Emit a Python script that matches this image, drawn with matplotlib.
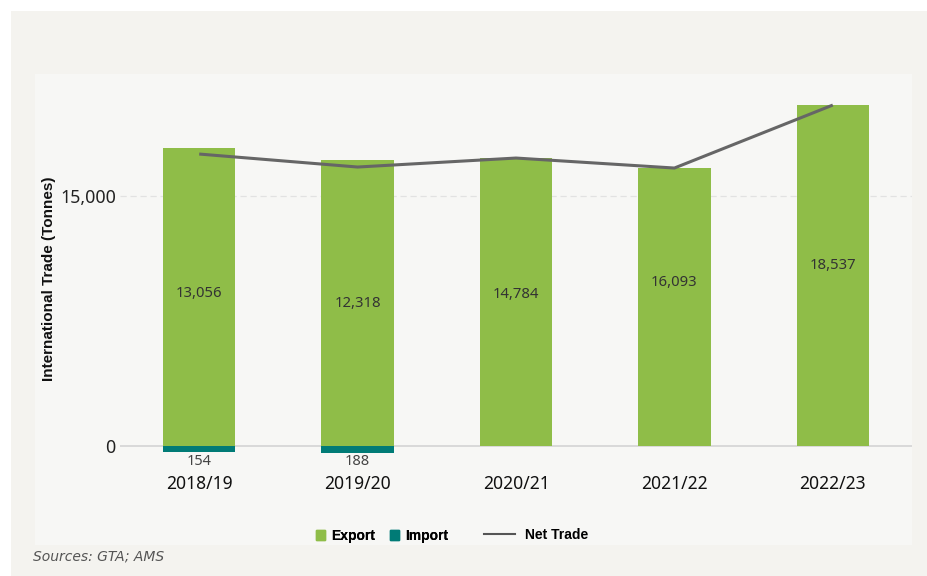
import matplotlib.pyplot as plt
from matplotlib.patches import Rectangle, Patch
from matplotlib.lines import Line2D

years = ["2018/19", "2019/20", "2020/21", "2021/22", "2022/23"]
export_vals = [17880, 17160, 17280, 16680, 20460]
import_vals = [-370, -400, 0, 0, 0]
net_trade = [17520, 16740, 17280, 16680, 20460]
export_labels = ["13,056", "12,318", "14,784", "16,093", "18,537"]
import_labels = ["154", "188", "", "", ""]

# where the value labels sit inside the bars (as in the source chart)
label_y = [9180, 8580, 9120, 9840, 10860]

green = "#8fbd48"
teal = "#007b76"
plt.rcParams["font.family"] = ["Noto Sans", "DejaVu Sans"]

fig = plt.figure(figsize=(9.28, 5.76), dpi=100, facecolor="white")

# outer and inner panels
fig.patches.append(Rectangle((11 / 928, 0), 917 / 928, 565 / 576, transform=fig.transFigure,
                             facecolor="#f4f3ef", edgecolor="none", zorder=-3))
fig.patches.append(Rectangle((35 / 928, 31 / 576), 877 / 928, 471 / 576, transform=fig.transFigure,
                             facecolor="#f7f7f5", edgecolor="none", zorder=-2))

ax = fig.add_axes([120 / 928, 0.2026, 792 / 928, 0.648])
ax.set_facecolor("none")

x = range(len(years))
ax.bar(x, export_vals, width=0.456, color=green, zorder=2)
ax.bar(x, import_vals, width=0.456, color=teal, zorder=2)
ax.plot(x, net_trade, color="#666666", linewidth=2.2, zorder=3, solid_capstyle="butt")

for i in x:
    ax.text(i, label_y[i], export_labels[i], ha="center", va="center",
            fontsize=10.7, color="#333333", zorder=4)
    if import_labels[i]:
        ax.text(i, -480, import_labels[i], ha="center", va="top", fontsize=10.5, color="#444444")

ax.axhline(0, color="#d4d4d4", linewidth=1.2, zorder=1)
ax.axhline(15000, color="#e2e2e2", linewidth=0.9, linestyle=(0, (5, 3)), zorder=0)

ax.set_xlim(-0.5, 4.5)
ax.set_ylim(-800, 21600)
ax.set_yticks([0, 15000])
ax.set_yticklabels(["0", "15,000"], fontsize=12.8, color="#222222")
ax.set_xticks(list(x))
ax.set_xticklabels(years, fontsize=12.6, color="#111111")
ax.tick_params(length=0)
ax.tick_params(axis="x", pad=11)
ax.tick_params(axis="y", pad=3)
for s in ax.spines.values():
    s.set_visible(False)

fig.text(49 / 928, 1 - 279 / 576, "International Trade (Tonnes)", rotation=90, ha="center",
         va="center", fontsize=11, fontweight="bold", color="#111111",
         family=["Liberation Sans", "DejaVu Sans"])

leg_font = {"family": ["Liberation Sans", "DejaVu Sans"], "weight": "bold", "size": 10}
bars_leg = fig.legend(handles=[Patch(color=green, label="Export"), Patch(color=teal, label="Import")],
                      loc="center", bbox_to_anchor=(382 / 928, 1 - 536 / 576), ncol=2, frameon=False,
                      handlelength=0.65, handleheight=0.65, handletextpad=0.45, columnspacing=1.1,
                      prop=leg_font)
fig.add_artist(bars_leg)
fig.legend(handles=[Line2D([], [], color="#555555", linewidth=1.5, label="Net Trade")],
           loc="center", bbox_to_anchor=(536 / 928, 1 - 535 / 576), frameon=False,
           handlelength=2.2, handletextpad=0.7, prop=leg_font)

fig.text(33 / 928, 1 - 557 / 576, "Sources: GTA; AMS", fontsize=10, style="italic",
         color="#555555", va="center", family="DejaVu Sans")

fig.savefig("out.png", dpi=100, facecolor=fig.get_facecolor())
